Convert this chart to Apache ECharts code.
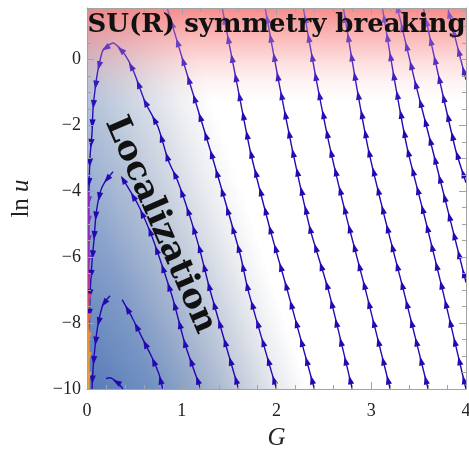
<!DOCTYPE html>
<html><head><meta charset="utf-8">
<script src="https://cdn.jsdelivr.net/npm/echarts@6/dist/echarts.min.js"></script>
<style>html,body{margin:0;padding:0;background:#fff}#c{width:469px;height:451px}</style>
</head><body><div id="c"></div>
<script>
// ---- data (G, ln u) ----
const xTickValues = [0, 1, 2, 3, 4];
const xTickLabels = ['0', '1', '2', '3', '4'];
const yTickValues = [-10, -8, -6, -4, -2, 0];
const yTickLabels = ['\u221210', '\u22128', '\u22126', '\u22124', '\u22122', '0'];

// streamlines, listed in flow direction
const arch1Path = [[1.6,-10],[1.30,-7.02],[1.19,-5.77],[1.09,-4.80],[0.96,-3.71],[0.856,-3.05],[0.75,-2.05],[0.613,-1.29],[0.486,-0.32],[0.38,0.23],[0.275,0.50],[0.17,0.29],[0.116,-0.32],[0.085,-0.92],[0.063,-1.53],[0.053,-2.23],[0.032,-2.95],[0.024,-3.6],[0.02,-4.0]];
const arch2Right = [[1.2,-10],[1.036,-8.65],[0.909,-7.29],[0.772,-6.08],[0.666,-5.23],[0.539,-4.41],[0.37,-3.59]];
const arch2Left = [[0.275,-3.41],[0.19,-3.71],[0.137,-4.05],[0.095,-4.71],[0.074,-5.47],[0.053,-6.14],[0.032,-7.14],[0.024,-8.2]];
const arch3Right = [[0.8,-10],[0.761,-9.56],[0.687,-9.05],[0.581,-8.44],[0.476,-7.83],[0.37,-7.29]];
const arch3Left = [[0.243,-7.17],[0.169,-7.44],[0.116,-8.05],[0.085,-8.71],[0.063,-9.41],[0.053,-10]];
const arch4Path = [[0.38,-10],[0.32,-9.8],[0.24,-9.66],[0.2,-9.68]];
const flow1 = [[2.0,-10],[1.70,-7.0],[1.617,-5.92],[1.30,-2.74],[1.09,-0.77],[0.846,1.56]];
const flow2 = [[2.4,-10],[2.114,-7.0],[1.934,-5.17],[1.72,-2.74],[1.575,-0.62],[1.427,1.56]];
const flow3 = [[2.8,-10],[2.548,-7.0],[2.357,-5.17],[2.167,-2.74],[2.02,-0.62],[1.88,1.56]];
const flow4 = [[3.2,-10],[2.94,-7.0],[2.748,-4.89],[2.569,-2.74],[2.42,-0.62],[2.283,1.56]];
const flow5 = [[3.6,-10],[3.34,-7.0],[3.15,-4.89],[2.97,-2.74],[2.833,-0.62],[2.706,1.56]];
const flow6 = [[4.0,-10],[3.753,-7.0],[3.573,-4.89],[3.383,-2.74],[3.245,-0.62],[3.118,1.56]];
const flow7 = [[4.0,-6.77],[3.647,-2.74],[3.457,-0.62],[3.277,1.56]];
const flow8 = [[4.0,-3.74],[3.89,-2.74],[3.72,-0.62],[3.55,1.56]];
const flow9 = [[4.0,-0.62],[3.805,1.56]];
const axisFlow = [[0.02,-4.0],[0.019,-6.0],[0.018,-8.0],[0.018,-10]];

// background regions (G, ln u corners)
const blueRegion = [0, 1.56, 4, -10];
const redRegion = [0, 1.56, 4, -1.3];

// ---- styling ----
const mainStops = [[8,'#8a5ac8'],[45,'#6a3ec4'],[80,'#3a1cbc'],[120,'#2408b2']];
const axisStops = [[150,'#7a2fc0'],[255,'#8a30b8'],[290,'#c03a80'],[312,'#e25a40'],[335,'#f08c30'],[389,'#f5a030']];

const streams = [
  {pts: arch1Path, kind: 'main'}, {pts: arch2Right, kind: 'main'}, {pts: arch2Left, kind: 'main'},
  {pts: arch3Right, kind: 'main'}, {pts: arch3Left, kind: 'main'}, {pts: arch4Path, kind: 'main'},
  {pts: flow1, kind: 'main'}, {pts: flow2, kind: 'main'}, {pts: flow3, kind: 'main'},
  {pts: flow4, kind: 'main'}, {pts: flow5, kind: 'main'}, {pts: flow6, kind: 'main'},
  {pts: flow7, kind: 'main'}, {pts: flow8, kind: 'main'}, {pts: flow9, kind: 'main'},
  {pts: axisFlow, kind: 'axis'}
];

function hexToRgb(h){ return [parseInt(h.substr(1,2),16), parseInt(h.substr(3,2),16), parseInt(h.substr(5,2),16)]; }
function colorAt(stops, y){
  if (y <= stops[0][0]) return stops[0][1];
  for (let i = 0; i < stops.length - 1; i++) {
    const a = stops[i], b = stops[i+1];
    if (y <= b[0]) {
      const t = (y - a[0]) / (b[0] - a[0]);
      const ca = hexToRgb(a[1]), cb = hexToRgb(b[1]);
      const c = ca.map((v, k) => Math.round(v + (cb[k] - v) * t));
      return 'rgb(' + c.join(',') + ')';
    }
  }
  return stops[stops.length-1][1];
}
function gradFor(stops){
  const y0 = stops[0][0], y1 = stops[stops.length-1][0];
  return new echarts.graphic.LinearGradient(0, y0, 0, y1,
    stops.map(s => ({offset: (s[0]-y0)/(y1-y0), color: s[1]})), true);
}

const FRAME = '#a3a3a3';
const ARROW_GAP = 19.5, ARROW_START = 9;

const chart = echarts.init(document.getElementById('c'));

const lineSeries = streams.map(s => ({
  type: 'line', data: s.pts, xAxisIndex: 0, yAxisIndex: 0,
  symbol: 'none', showSymbol: false, smooth: 0.2, silent: true, animation: false, z: 3,
  lineStyle: {width: s.kind === 'axis' ? 1.8 : 1.4, color: gradFor(s.kind === 'axis' ? axisStops : mainStops)}
}));

const arrowSeries = {
  type: 'custom', xAxisIndex: 0, yAxisIndex: 0, clip: true, silent: true, animation: false, z: 4,
  data: streams.map((s, i) => [s.pts[0][0], s.pts[0][1], i]),
  encode: {x: 0, y: 1},
  renderItem: function (params, api) {
    const s = streams[api.value(2)];
    const stops = s.kind === 'axis' ? axisStops : mainStops;
    const px = s.pts.map(p => api.coord(p));
    const children = [];
    let acc = 0, next = ARROW_START;
    for (let k = 0; k < px.length - 1; k++) {
      const a = px[k], b = px[k+1];
      const dx = b[0]-a[0], dy = b[1]-a[1];
      const L = Math.hypot(dx, dy);
      if (L === 0) continue;
      const ux = dx/L, uy = dy/L;
      while (next <= acc + L) {
        const t = next - acc;
        const cx = a[0] + ux*t, cy = a[1] + uy*t;
        const tip = [cx + ux*5, cy + uy*5];
        const bl = [cx - ux*4 - uy*3.1, cy - uy*4 + ux*3.1];
        const br = [cx - ux*4 + uy*3.1, cy - uy*4 - ux*3.1];
        children.push({type: 'polygon', shape: {points: [tip, bl, br]}, style: {fill: colorAt(stops, cy)}});
        next += ARROW_GAP;
      }
      acc += L;
    }
    return {type: 'group', children: children};
  }
};

const bgSeries = {
  type: 'custom', xAxisIndex: 0, yAxisIndex: 0, clip: true, silent: true, animation: false, z: 1,
  data: [blueRegion.concat([0]), redRegion.concat([1])],
  encode: {x: 0, y: 1},
  renderItem: function (params, api) {
    const p0 = api.coord([api.value(0), api.value(1)]);
    const p1 = api.coord([api.value(2), api.value(3)]);
    const w = p1[0]-p0[0], h = p1[1]-p0[1];
    if (api.value(4) === 0) {
      // diagonal blue fade from the lower-left corner, lightened towards the top
      const sx = p0[0], sy = p1[1];
      const blue = new echarts.graphic.LinearGradient(sx, sy, sx + 0.948*210, sy - 0.318*210, [
        {offset: 0, color: '#5679b8'}, {offset: 0.3, color: '#7391c2'},
        {offset: 0.5, color: '#98abca'}, {offset: 0.7, color: '#c3ccda'},
        {offset: 0.86, color: '#e7e9ee'}, {offset: 1, color: '#ffffff'}], true);
      const veil = new echarts.graphic.LinearGradient(0, p1[1], 0, p0[1], [
        {offset: 0, color: 'rgba(255,255,255,0)'}, {offset: 0.25, color: 'rgba(255,255,255,0.1)'},
        {offset: 0.55, color: 'rgba(255,255,255,0.25)'}, {offset: 0.9, color: 'rgba(255,255,255,0.4)'},
        {offset: 1, color: 'rgba(255,255,255,0.42)'}], true);
      return {type: 'group', children: [
        {type: 'rect', shape: {x: p0[0], y: p0[1], width: w, height: h}, style: {fill: blue}},
        {type: 'rect', shape: {x: p0[0], y: p0[1], width: w, height: h}, style: {fill: veil}}
      ]};
    }
    const red = new echarts.graphic.LinearGradient(0, p0[1], 0, p1[1], [
      {offset: 0, color: 'rgba(246,120,120,0.85)'},
      {offset: 0.2, color: 'rgba(246,120,120,0.63)'},
      {offset: 0.4, color: 'rgba(246,120,120,0.42)'},
      {offset: 0.6, color: 'rgba(246,120,120,0.22)'},
      {offset: 0.8, color: 'rgba(246,120,120,0.08)'},
      {offset: 1, color: 'rgba(246,120,120,0)'}], true);
    return {type: 'rect', shape: {x: p0[0], y: p0[1], width: w, height: h}, style: {fill: red}};
  }
};

const labelFont = {fontFamily: 'Liberation Serif', fontSize: 18, color: '#222'};
function yFmt(v){ const i = yTickValues.indexOf(v); return i >= 0 ? yTickLabels[i] : ''; }
function xFmt(v){ const i = xTickValues.indexOf(v); return i >= 0 ? xTickLabels[i] : ''; }

const majorTick = {show: true, inside: true, length: 7, lineStyle: {color: FRAME}};
const minorTickY = {show: true, inside: true, length: 4, lineStyle: {color: FRAME}};
const frameLine = {show: true, onZero: false, lineStyle: {color: FRAME}};

chart.setOption({
  backgroundColor: '#fff',
  animation: false,
  grid: {left: 87, right: 3, top: 8, bottom: 62, containLabel: false, outerBoundsMode: 'none'},
  xAxis: [
    {type: 'value', min: 0, max: 4, interval: 1, position: 'bottom', z: 10,
     axisLine: frameLine, axisTick: majorTick,
     minorTick: {show: true, splitNumber: 5, length: 4, lineStyle: {color: FRAME}},
     splitLine: {show: false}, minorSplitLine: {show: false},
     axisLabel: Object.assign({formatter: xFmt, margin: 13}, labelFont),
     name: 'G', nameLocation: 'middle', nameGap: 37,
     nameTextStyle: {fontFamily: 'Liberation Serif', fontStyle: 'italic', fontSize: 25, color: '#222'}},
    {type: 'value', min: 0, max: 4, interval: 1, position: 'top', z: 10,
     axisLine: frameLine, axisTick: majorTick,
     minorTick: {show: true, splitNumber: 5, length: 4, lineStyle: {color: FRAME}},
     splitLine: {show: false}, axisLabel: {show: false}}
  ],
  yAxis: [
    {type: 'value', min: -10, max: 1.56, interval: 2, position: 'left', z: 10,
     axisLine: frameLine, axisTick: majorTick,
     splitLine: {show: false}, axisLabel: Object.assign({formatter: yFmt, margin: 6}, labelFont),
     name: '{r|ln }{i|u}', nameLocation: 'middle', nameRotate: 90, nameGap: 53,
     nameTextStyle: {rich: {
       r: {fontFamily: 'Liberation Serif', fontSize: 25, color: '#222'},
       i: {fontFamily: 'Liberation Serif', fontStyle: 'italic', fontSize: 25, color: '#222'}}}},
    {type: 'value', min: -10, max: 1.56, interval: 0.5, position: 'left', z: 10,
     axisLine: {show: false, onZero: false}, axisTick: minorTickY, splitLine: {show: false}, axisLabel: {show: false}},
    {type: 'value', min: -10, max: 1.56, interval: 2, position: 'right', z: 10,
     axisLine: frameLine, axisTick: majorTick,
     splitLine: {show: false}, axisLabel: {show: false}},
    {type: 'value', min: -10, max: 1.56, interval: 0.5, position: 'right', z: 10,
     axisLine: {show: false, onZero: false}, axisTick: minorTickY, splitLine: {show: false}, axisLabel: {show: false}}
  ],
  graphic: [
    {type: 'text', x: 276.5, y: 25, z: 20, silent: true,
     style: {text: 'SU(R) symmetry breaking', font: 'bold 26px "DejaVu Serif"', fill: '#111', align: 'center', verticalAlign: 'middle'}},
    {type: 'text', x: 160, y: 225, rotation: -1.16, z: 20, silent: true,
     style: {text: 'Localization', font: 'bold 34px "DejaVu Serif"', fill: '#111', align: 'center', verticalAlign: 'middle'}}
  ],
  series: [bgSeries].concat(lineSeries, [arrowSeries])
});
</script>
</body></html>
